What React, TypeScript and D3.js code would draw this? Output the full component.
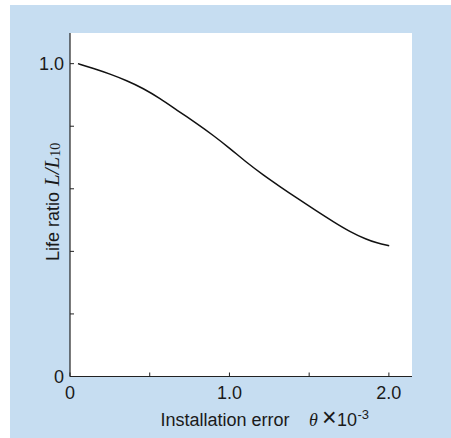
import React from "react";
import * as d3 from "d3";

const thetaValues = [0.05, 0.146, 0.251, 0.355, 0.46, 0.564, 0.669, 0.794, 0.898, 1.003, 1.108, 1.212, 1.317, 1.421, 1.547, 1.651, 1.755, 1.86, 1.923, 2.002];
const lifeValues = [1.0, 0.985, 0.967, 0.946, 0.921, 0.889, 0.852, 0.809, 0.771, 0.729, 0.684, 0.644, 0.607, 0.571, 0.529, 0.495, 0.463, 0.438, 0.427, 0.418];
const xMajorTicks = [0, 1, 2];
const xMajorLabels = ["0", "1.0", "2.0"];
const xMinorTicks = [0.5, 1.5];
const yMajorTicks = [0, 1];
const yMajorLabels = ["0", "1.0"];
const yMinorTicks = [0.2, 0.4, 0.6, 0.8];

const W = 451;
const H = 438;
const SANS = "'Liberation Sans', Arial, Helvetica, sans-serif";
const SERIF = "'Liberation Serif', 'Times New Roman', serif";
const TEXT = "#1a1a1a";

export default function App() {
  const x = d3.scaleLinear().domain([0, 2.145]).range([70, 412]);
  const y = d3.scaleLinear().domain([0, 1.098]).range([376.5, 33]);
  const pts = thetaValues.map((t, i) => [t, lifeValues[i]] as [number, number]);
  const line = d3
    .line<[number, number]>()
    .x((d) => x(d[0]))
    .y((d) => y(d[1]))
    .curve(d3.curveBasis);
  const [x0, x1] = x.range();
  const [y0, y1] = y.range();
  return (
    <div style={{ position: "fixed", left: 0, top: 0 }}>
      <svg width={W} height={H} style={{ display: "block" }}>
        <rect x={0} y={0} width={W} height={H} fill="#ffffff" />
        <rect x={10} y={5} width={W - 10} height={H - 5} fill="#c6ddf1" />
        <rect x={x0} y={y1} width={x1 - x0} height={y0 - y1} fill="#ffffff" />
        {/* axes */}
        <line x1={x0} x2={x0} y1={y1} y2={y0} stroke="#222" strokeWidth={1.2} />
        <line x1={x0} x2={x1} y1={y0} y2={y0} stroke="#222" strokeWidth={1.2} />
        {[...xMajorTicks, ...xMinorTicks].map((t) => (
          <line key={"xt" + t} x1={x(t)} x2={x(t)} y1={y0} y2={y0 - 4} stroke="#222" strokeWidth={1} />
        ))}
        {[...yMajorTicks, ...yMinorTicks].map((t) => (
          <line key={"yt" + t} x1={x0} x2={x0 + 4} y1={y(t)} y2={y(t)} stroke="#222" strokeWidth={1} />
        ))}
        {xMajorTicks.map((t, i) => (
          <text key={"xl" + t} x={x(t)} y={399} textAnchor="middle" fontFamily={SANS} fontSize={18} fill={TEXT}>
            {xMajorLabels[i]}
          </text>
        ))}
        {yMajorTicks.map((t, i) => (
          <text key={"yl" + t} x={64} y={y(t) + 6.5} textAnchor="end" fontFamily={SANS} fontSize={18} fill={TEXT}>
            {yMajorLabels[i]}
          </text>
        ))}
        {/* curve */}
        <path d={line(pts) || ""} fill="none" stroke="#111" strokeWidth={1.5} />
        {/* x title */}
        <text x={160.5} y={426} fontFamily={SANS} fontSize={18} fill={TEXT}>
          Installation error
          <tspan x={309} fontFamily={SERIF} fontStyle="italic" fontSize={18}>θ</tspan>
          <tspan x={322} fontSize={25} fontWeight={300}>×</tspan>
          <tspan x={337}>10</tspan>
          <tspan dx={0.5} fontSize={13} dy={-7}>-3</tspan>
        </text>
        {/* y title */}
        <text transform="translate(58.5,261) rotate(-90)" fontFamily={SANS} fontSize={18} fill={TEXT}>
          Life ratio
          <tspan x={75} fontFamily={SERIF} fontStyle="italic" fontSize={21}>L/L</tspan>
          <tspan fontFamily={SERIF} fontSize={14} dy={1}>10</tspan>
        </text>
      </svg>
    </div>
  );
}
